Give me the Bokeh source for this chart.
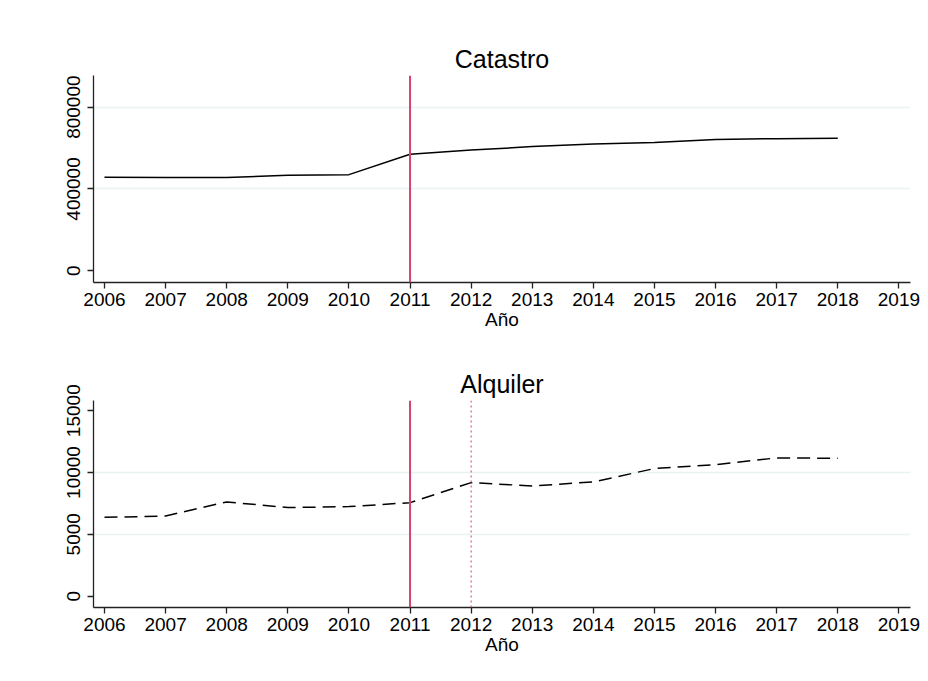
from bokeh.plotting import figure
from bokeh.layouts import column
from bokeh.models import Range1d, FixedTicker, Span, BasicTickFormatter
from bokeh.embed import file_html
from bokeh.resources import INLINE

years = [2006, 2007, 2008, 2009, 2010, 2011, 2012, 2013, 2014, 2015, 2016, 2017, 2018]
catastro = [456800, 456500, 456300, 466600, 470000, 569500, 590000, 607000, 620000, 626700, 641400, 646000, 647800]
alquiler = [6370, 6480, 7620, 7160, 7240, 7560, 9180, 8910, 9240, 10320, 10640, 11180, 11150]
x_ticks = list(range(2006, 2020))
cat_ticks = [0, 400000, 800000]
cat_grid = [400000, 800000]
alq_ticks = [0, 5000, 10000, 15000]
alq_grid = [5000, 10000]
reform_year = 2011
second_year = 2012

FONT = "Liberation Sans"
RED = "#d6446e"
GRID = "#eaf2f3"


def make_fig(title, height, top, bottom, yr, yticks, ygrid):
    p = figure(width=928, height=height, output_backend="svg", toolbar_location=None,
               x_range=Range1d(2005.82, 2019.19), y_range=Range1d(*yr),
               min_border_left=93, min_border_right=18, min_border_top=top,
               min_border_bottom=bottom, title=title)
    p.outline_line_color = None
    p.background_fill_color = "white"
    p.border_fill_color = "white"
    p.title.align = "center"
    p.title.text_font = FONT
    p.title.text_font_size = "25px"
    p.title.text_font_style = "normal"
    p.title.text_color = "black"
    p.title.standoff = 5
    p.xgrid.visible = False
    p.ygrid.ticker = FixedTicker(ticks=ygrid)
    p.ygrid.grid_line_color = GRID
    p.ygrid.grid_line_width = 1.5
    p.xaxis.ticker = FixedTicker(ticks=x_ticks)
    p.yaxis.ticker = FixedTicker(ticks=yticks)
    p.yaxis.formatter = BasicTickFormatter(use_scientific=False)
    p.xaxis.formatter = BasicTickFormatter(use_scientific=False)
    for ax in (p.xaxis, p.yaxis):
        ax.major_label_text_font = FONT
        ax.major_label_text_font_size = "19px"
        ax.major_label_text_color = "black"
        ax.axis_line_color = "#222222"
        ax.axis_line_width = 1.3
        ax.major_tick_line_color = "#222222"
        ax.major_tick_line_width = 1.3
        ax.major_tick_out = 6
        ax.major_tick_in = 0
        ax.minor_tick_out = 0
        ax.minor_tick_in = 0
        ax.major_label_standoff = 4
    p.yaxis.major_label_standoff = 7
    p.yaxis.major_label_orientation = "vertical"
    p.xaxis.axis_label = "Año"
    p.xaxis.axis_label_text_font = FONT
    p.xaxis.axis_label_text_font_size = "19px"
    p.xaxis.axis_label_text_font_style = "normal"
    p.xaxis.axis_label_text_color = "black"
    p.xaxis.axis_label_standoff = 0
    return p


p1 = make_fig("Catastro", 340, 75, 58, (-57300, 954700), cat_ticks, cat_grid)
p1.line(years, catastro, line_color="black", line_width=1.5)
p1.add_layout(Span(location=reform_year, dimension="height", line_color=RED, line_width=2))

p2 = make_fig("Alquiler", 341, 60, 74, (-924, 15826), alq_ticks, alq_grid)
p2.line(years, alquiler, line_color="black", line_width=1.5, line_dash="13 7")
p2.add_layout(Span(location=reform_year, dimension="height", line_color=RED, line_width=2))
p2.add_layout(Span(location=second_year, dimension="height", line_color="#de5a85",
                   line_width=1.2, line_dash="2 3"))

layout = column(p1, p2, spacing=0)
open("out.html", "w").write(file_html(layout, INLINE))
